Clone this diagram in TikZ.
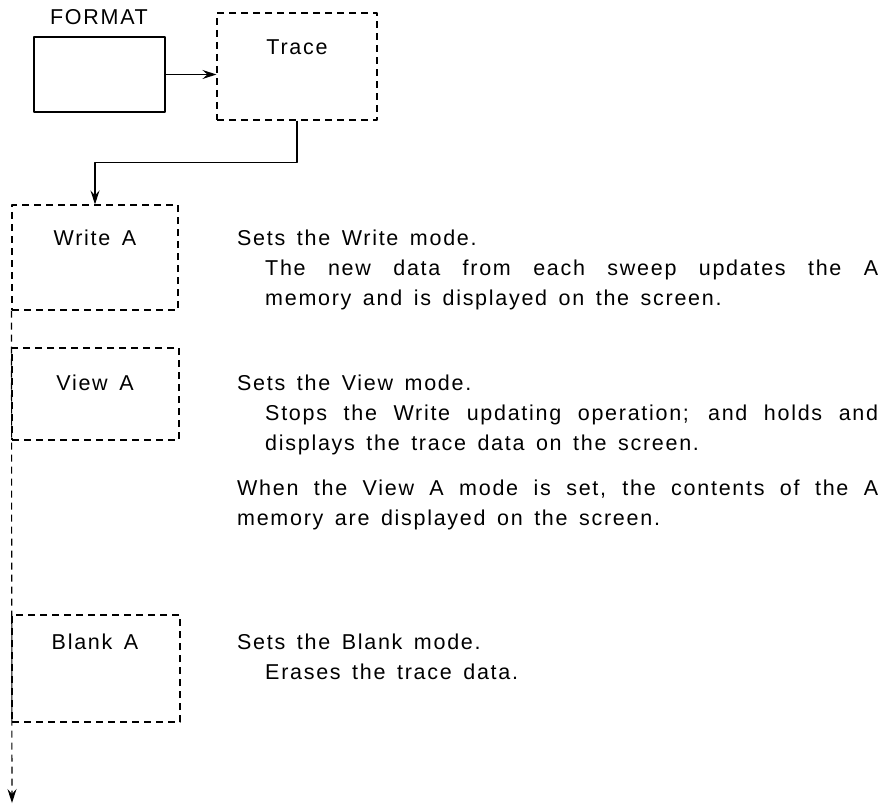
\documentclass[tikz,border=0pt]{standalone}
\usepackage{fontspec}
\setmainfont{Liberation Sans}[LetterSpace=8, WordSpace=1.5]
\usetikzlibrary{arrows.meta}

\tikzset{
  dashbox/.style={draw, dash pattern=on 7pt off 5pt, line width=1.1pt},
  solidbox/.style={draw, line width=1.2pt},
  boxlabel/.style={font=\fontsize{21.5}{30}\selectfont, inner sep=0pt},
  desc/.style={font=\fontsize{21.5}{30}\selectfont, align=left, inner sep=0pt, anchor=base west},
  link/.style={line width=1.1pt, ->}
}

\begin{document}
\begin{tikzpicture}[x=1pt, y=-1pt, line join=round, >={Stealth[length=14pt, width=9pt, inset=5pt]}]
	\useasboundingbox (0,0) rectangle (891,805);
	% boxes on the left
	\node[solidbox, minimum width=131pt, minimum height=75pt] (format) at (99.5,74.5) {};
	\node[dashbox, minimum width=160pt, minimum height=107pt] (trace) at (297,66.5) {};
	\node[dashbox, minimum width=166pt, minimum height=105pt] (write) at (95,257.5) {};
	\node[dashbox, minimum width=167pt, minimum height=92pt] (view) at (95.5,394) {};
	\node[dashbox, minimum width=168pt, minimum height=107pt] (blank) at (96,668.5) {};
	\coordinate (bottom) at (12,803);
	% labels
	\node[boxlabel] (formatlbl) at (99,17) {FORMAT};
	\node[boxlabel] (tracelbl) at (297,47) {Trace};
	\node[boxlabel] (writelbl) at (95,238) {Write A};
	\node[boxlabel] (viewlbl) at (95,383) {View A};
	\node[boxlabel] (blanklbl) at (95,642) {Blank A};
	% connectors
	\draw[link] (format.east) -- (format.east -| trace.west);
	\draw[link] (trace.south) -- ++(0,42) -| (write.north);
	\draw[link, dash pattern=on 7pt off 5pt] (write.south west) -- (bottom);
	% descriptions (base = last line)
	\node[desc] (writedesc) at (237,305) {Sets the Write mode.\\
		\hspace*{28pt}\makebox[613pt][s]{The new data from each sweep updates the A}\\
		\hspace*{28pt}memory and is displayed on the screen.};
	\node[desc] (viewdesc) at (237,450) {Sets the View mode.\\
		\hspace*{28pt}\makebox[613pt][s]{Stops the Write updating operation; and holds and}\\
		\hspace*{28pt}displays the trace data on the screen.};
	\node[desc] (viewnote) at (237,525) {\makebox[641pt][s]{When the View A mode is set, the contents of the A}\\
		memory are displayed on the screen.};
	\node[desc] (blankdesc) at (237,679) {Sets the Blank mode.\\
		\hspace*{28pt}Erases the trace data.};
\end{tikzpicture}
\end{document}
